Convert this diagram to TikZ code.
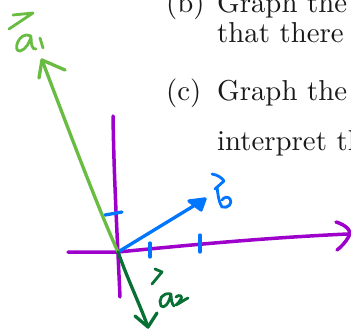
\documentclass[tikz,border=0pt]{standalone}
\usepackage{graphicx}
\definecolor{axpurple}{RGB}{158,0,204}
\definecolor{vblue}{RGB}{0,118,255}
\definecolor{vlgreen}{RGB}{104,188,66}
\definecolor{vdgreen}{RGB}{8,112,52}
\definecolor{txt}{RGB}{25,25,25}
\newcommand{\doctxt}[1]{\scalebox{2.88}{\fontsize{10}{12}\selectfont #1}}
\begin{document}
\begin{tikzpicture}[x=1pt,y=-1pt,
  pen/.style={line width=3.3pt,line cap=round,line join=round},
  axis/.style={pen,draw=axpurple,line width=3.5pt},
  tick/.style={pen,draw=vblue},
  doctext/.style={anchor=base west,inner sep=0pt,text=txt}]
\clip (0,0) rectangle (351,329);
\fill[white] (0,0) rectangle (351,329);
% document text
\node[doctext] (lb) at (166,13) {\doctxt{(b)}};
\node[doctext] (tb1) at (217,13) {\doctxt{Graph the}};
\node[doctext] (tb2) at (217,43) {\doctxt{that there}};
\node[doctext] (lc) at (166,100) {\doctxt{(c)}};
\node[doctext] (tc1) at (217,100) {\doctxt{Graph the}};
\node[doctext] (tc2) at (217,150) {\doctxt{interpret th}};
% axes
\coordinate (O) at (118,252);
\draw[axis] (113,116) .. controls (114,180) and (117,230) .. (120,297);
\draw[axis] (68,252) -- (O) .. controls (180,246) and (260,238) .. (348,234);
\draw[axis] (336,222) .. controls (346,225) and (352,231) .. (349,236) .. controls (346,242) and (341,247) .. (337,250);
% ticks
\draw[tick] (150,243) -- (150,257);
\draw[tick] (200,235) -- (200,252);
\draw[tick] (105,215) -- (122,212);
% vector b
\coordinate (btip) at (205,199);
\draw[pen,draw=vblue] (O) -- (btip);
\draw[pen,draw=vblue,fill=vblue] (189,201) -- (btip) -- (201,210) -- cycle;
\draw[pen,draw=vblue,line width=2.8pt] (212,174) .. controls (218,175) and (222,178) .. (224,181) -- (215,189);
\draw[pen,draw=vblue,line width=2.8pt] (217,187) .. controls (218,195) and (219,203) .. (222,207) .. controls (228,209) and (233,203) .. (230,199) .. controls (228,196) and (224,197) .. (222,200);
% vector a1
\coordinate (a1tip) at (42,60);
\draw[pen,draw=vlgreen] (O) .. controls (100,212) and (80,160) .. (a1tip);
\draw[pen,draw=vlgreen] (39,78) -- (a1tip) -- (65,70);
\draw[pen,draw=vlgreen,line width=2.8pt] (13,15) -- (33,13) -- (9,29);
\draw[pen,draw=vlgreen,line width=2.8pt] (31,36) .. controls (19,30) and (12,52) .. (20,51) .. controls (26,50) and (30,41) .. (31,37) .. controls (31,44) and (32,50) .. (36,49);
\draw[pen,draw=vlgreen,line width=2.8pt] (40,38) -- (43,48);
% vector a2
\coordinate (a2tip) at (148,327);
\draw[pen,draw=vdgreen] (O) .. controls (128,280) and (140,305) .. (a2tip);
\draw[pen,draw=vdgreen] (135,316) -- (a2tip) -- (157,313);
\draw[pen,draw=vdgreen,line width=2.8pt] (155,269) -- (162,272) -- (152,284);
\draw[pen,draw=vdgreen,line width=2.8pt] (171,294) .. controls (162,292) and (158,300) .. (161,306) .. controls (164,309) and (169,304) .. (171,294) .. controls (171,300) and (172,304) .. (174,306);
\draw[pen,draw=vdgreen,line width=2.8pt] (176,297) .. controls (179,294) and (183,296) .. (181,299) .. controls (180,302) and (177,304) .. (176,305) .. controls (180,303) and (184,300) .. (188,298);
\end{tikzpicture}
\end{document}
